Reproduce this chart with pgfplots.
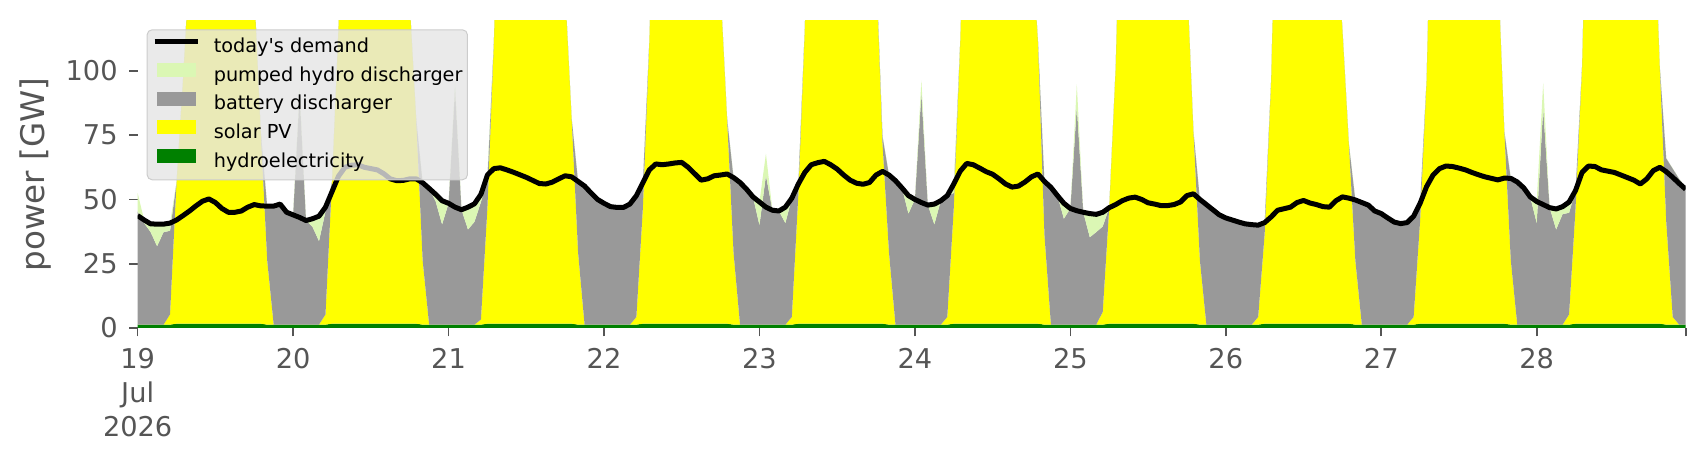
\documentclass[border=0pt]{standalone}
\usepackage{fontspec}
\setmainfont{DejaVu Sans}[Ligatures=TeXOff]
\usepackage{pgfplots}
\usepackage{pgfplotstable}
\pgfplotsset{compat=1.18}
\definecolor{solar}{HTML}{FFFF00}
\definecolor{batt}{HTML}{999999}
\definecolor{phes}{HTML}{DBF7B4}
\definecolor{hydro}{HTML}{008000}
\definecolor{axgray}{HTML}{555555}
\definecolor{legfill}{HTML}{E5E5E5}
\definecolor{legedge}{HTML}{CCCCCC}

\pgfplotstableread{
i H S B P D
0 1.3 0 44 7.2 43.7
1 1.3 0 39.5 1.2 42
2 1.3 0 36 3.2 40.5
3 1.3 0 30.5 8.6 40.4
4 1.3 0 36 3.1 40.4
5 1.3 4 32.5 3 40.8
6 1.7 55 0 0 42
7 1.7 95 0 0 43.7
8 1.7 140 0 0 45.5
9 1.7 200 0 0 47.5
10 1.7 200 0 0 49.3
11 1.7 200 0 0 50.2
12 1.7 200 0 0 48.8
13 1.7 200 0 0 46.5
14 1.7 200 0 0 45
15 1.7 200 0 0 45
16 1.7 200 0 0 45.5
17 1.7 160 0 0 47
18 1.7 130 0 0 48
19 1.7 75 0 0 47.5
20 1.3 25 21.1 0 47.4
21 1.3 0 46.1 0 47.4
22 1.3 0 46.9 0 48.2
23 1.3 0 43.7 0 45
24 1.3 0 42.7 0 44
25 1.3 0 90 2 43
26 1.3 0 40.5 0 41.8
27 1.3 0 38 3.2 42.5
28 1.3 0 32.5 9.7 43.5
29 1.3 4 40 1.7 47
30 1.7 55 0 0 53
31 1.7 115 0 0 59
32 1.7 200 0 0 62.5
33 1.7 200 0 0 63.3
34 1.7 200 0 0 63.5
35 1.7 200 0 0 62.5
36 1.7 200 0 0 62
37 1.7 200 0 0 61.5
38 1.7 200 0 0 60
39 1.7 200 0 0 58
40 1.7 200 0 0 57.3
41 1.7 160 0 0 57.4
42 1.7 125 0 0 58
43 1.7 80 0 0 58
44 1.3 25 30.2 0 56.5
45 1.3 0 53 0 54.3
46 1.3 0 48 2.7 52
47 1.3 0 39 9.2 49.5
48 1.3 0 47.2 0 48.5
49 1.3 0 92 2 47
50 1.3 0 44.7 0 46
51 1.3 0 37 8.7 47
52 1.3 0 40 7 48.3
53 1.3 2 45.7 3 52
54 1.7 45 11.2 2 59.5
55 1.7 110 0 0 62
56 1.7 200 0 0 62.3
57 1.7 200 0 0 61.5
58 1.7 200 0 0 60.6
59 1.7 200 0 0 59.6
60 1.7 200 0 0 58.6
61 1.7 200 0 0 57.4
62 1.7 200 0 0 56.2
63 1.7 200 0 0 56
64 1.7 200 0 0 56.7
65 1.7 160 0 0 58
66 1.7 130 0 0 59.2
67 1.7 80 0 0 58.8
68 1.3 28 27.7 0 57
69 1.3 0 53.9 0 55.2
70 1.3 0 51.2 0 52.5
71 1.3 0 48.7 0 50
72 1.3 0 47.2 0 48.5
73 1.3 0 45.9 0 47.2
74 1.3 0 45.6 0 46.9
75 1.3 0 45.6 0 46.9
76 1.3 0 46.9 0 48.2
77 1.3 3 47.2 0 51.5
78 1.7 45 9.8 0 56.5
79 1.7 110 0 0 61.5
80 1.7 200 0 0 63.8
81 1.7 200 0 0 63.5
82 1.7 200 0 0 63.8
83 1.7 200 0 0 64.2
84 1.7 200 0 0 64.4
85 1.7 200 0 0 62.5
86 1.7 200 0 0 60
87 1.7 200 0 0 57.5
88 1.7 200 0 0 58
89 1.7 160 0 0 59.2
90 1.7 130 0 0 59.5
91 1.7 80 0 0 59.9
92 1.3 28 29.2 0 58.5
93 1.3 0 55.3 0 56.6
94 1.3 0 52.7 0 54
95 1.3 0 49.7 0 51
96 1.3 0 38.7 9 49
97 1.3 0 58 8.5 47
98 1.3 0 44.5 0 45.8
99 1.3 0 44.2 0 45.5
100 1.3 0 39.5 6.2 47
101 1.3 3 46.2 0 50.5
102 1.7 50 4.3 0 56
103 1.7 115 0 0 60.5
104 1.7 200 0 0 63.5
105 1.7 200 0 0 64.3
106 1.7 200 0 0 64.8
107 1.7 200 0 0 63.5
108 1.7 200 0 0 61.8
109 1.7 200 0 0 59.5
110 1.7 200 0 0 57.5
111 1.7 200 0 0 56.3
112 1.7 200 0 0 55.9
113 1.7 160 0 0 56.6
114 1.7 140 0 0 59.5
115 1.7 70 3 0 60.9
116 1.3 28 30.2 0 59.5
117 1.3 0 56 0 57.3
118 1.3 0 53.2 0 54.5
119 1.3 0 43.2 7 51.5
120 1.3 0 48.7 0 50
121 1.3 0 90 5 48.8
122 1.3 0 46.5 0 47.8
123 1.3 0 39 7.9 48.2
124 1.3 0 48.2 0 49.5
125 1.3 3 47.2 0 51.5
126 1.7 45 5.8 3.5 56
127 1.7 110 0 0 61
128 1.7 200 0 0 64
129 1.7 200 0 0 63.5
130 1.7 200 0 0 62.2
131 1.7 200 0 0 60.8
132 1.7 200 0 0 59.8
133 1.7 200 0 0 58
134 1.7 200 0 0 56
135 1.7 200 0 0 54.8
136 1.7 200 0 0 55.2
137 1.7 170 0 0 56.8
138 1.7 150 0 0 58.8
139 1.7 110 0 0 59.9
140 1.3 35 20.7 0 57
141 1.3 0 53.4 0 54.7
142 1.3 0 50.2 0 51.5
143 1.3 0 41.2 6 48.5
144 1.3 0 45.2 0 46.5
145 1.3 0 85 8.5 45.6
146 1.3 0 43.7 0 45
147 1.3 0 34 9.2 44.5
148 1.3 0 36 6.9 44.2
149 1.3 5 33.2 5.5 45
150 1.7 45 0.1 0 46.8
151 1.7 100 0 0 48
152 1.7 200 0 0 49.5
153 1.7 200 0 0 50.5
154 1.7 200 0 0 50.9
155 1.7 200 0 0 50
156 1.7 200 0 0 48.7
157 1.7 200 0 0 48.2
158 1.7 200 0 0 47.6
159 1.7 200 0 0 47.6
160 1.7 200 0 0 48
161 1.7 160 0 0 49
162 1.7 135 0 0 51.5
163 1.7 75 0 0 52.2
164 1.3 25 23.7 0 50
165 1.3 0 46.7 0 48
166 1.3 0 44.7 0 46
167 1.3 0 42.7 0 44
168 1.3 0 41.5 0 42.8
169 1.3 0 40.7 0 42
170 1.3 0 39.9 0 41.2
171 1.3 0 39.2 0 40.5
172 1.3 0 38.9 0 40.2
173 1.3 3 35.7 0 40
174 1.7 35 4.3 0 41
175 1.7 95 0 0 43.2
176 1.7 200 0 0 45.8
177 1.7 200 0 0 46.4
178 1.7 200 0 0 47
179 1.7 200 0 0 48.8
180 1.7 200 0 0 49.6
181 1.7 200 0 0 48.6
182 1.7 200 0 0 48
183 1.7 200 0 0 47.2
184 1.7 200 0 0 47
185 1.7 150 0 0 49.5
186 1.7 115 0 0 51
187 1.7 70 0 0 50.5
188 1.3 25 23.5 0 49.8
189 1.3 0 47.5 0 48.8
190 1.3 0 46.5 0 47.8
191 1.3 0 44.2 0 45.5
192 1.3 0 43.2 0 44.5
193 1.3 0 41.5 0 42.8
194 1.3 0 39.9 0 41.2
195 1.3 0 39.3 0 40.6
196 1.3 0 39.7 0 41
197 1.3 3 39.2 0 43.5
198 1.7 40 6.8 0 48.5
199 1.7 95 0 0 55
200 1.7 200 0 0 59.5
201 1.7 200 0 0 62
202 1.7 200 0 0 63
203 1.7 200 0 0 62.8
204 1.7 200 0 0 62.2
205 1.7 200 0 0 61.5
206 1.7 200 0 0 60.5
207 1.7 200 0 0 59.6
208 1.7 200 0 0 58.8
209 1.7 160 0 0 58.2
210 1.7 140 0 0 57.6
211 1.7 75 0 0 58.3
212 1.3 25 31.9 0 58.2
213 1.3 0 55.5 0 56.8
214 1.3 0 53.2 0 54.5
215 1.3 0 49.7 0 51
216 1.3 0 39.5 8.4 49.2
217 1.3 0 84 10 48
218 1.3 0 45.5 0 46.8
219 1.3 0 37 8 46.3
220 1.3 0 43 2.9 47.2
221 1.3 4 39.5 4.2 49
222 1.7 45 6.8 0 53.5
223 1.7 100 0 0 60.5
224 1.7 200 0 0 63
225 1.7 200 0 0 62.8
226 1.7 200 0 0 61.5
227 1.7 200 0 0 61
228 1.7 200 0 0 60.5
229 1.7 200 0 0 59.5
230 1.7 200 0 0 58.5
231 1.7 200 0 0 57.5
232 1.7 200 0 0 56
233 1.7 200 0 0 58
234 1.7 170 0 0 61.2
235 1.7 100 0 0 62.5
236 1.3 40 24.7 0 60.8
237 1.3 3 57.7 0 58.6
238 1.3 0 56.7 0 56.2
239 1.3 0 53.4 0 54
}\data

\pgfplotsset{
  hydroimg/.style={legend image code/.code={\fill[hydro, fill opacity=1, sharp corners] (0.7bp,-0.3bp) rectangle (12.3bp,3.9bp);}},
  solarimg/.style={legend image code/.code={\fill[solar, fill opacity=1, sharp corners] (0.7bp,-0.3bp) rectangle (12.3bp,3.9bp);}},
  battimg/.style={legend image code/.code={\fill[batt, fill opacity=1, sharp corners] (0.7bp,-0.3bp) rectangle (12.3bp,3.9bp);}},
  phesimg/.style={legend image code/.code={\fill[phes, fill opacity=1, sharp corners] (0.7bp,-0.3bp) rectangle (12.3bp,3.9bp);}},
  demimg/.style={legend image code/.code={\draw[black, line width=1.5bp, draw opacity=1, sharp corners] (0bp,1.8bp) -- (13bp,1.8bp);}},
}

\begin{document}
\begin{tikzpicture}
\useasboundingbox (-41.3bp,-39.6bp) rectangle (470.5bp,98.4bp);
\begin{axis}[
  at={(0,0)}, anchor=south west,
  scale only axis, width=464.4bp, height=92.1bp,
  xmin=0, xmax=239, ymin=0, ymax=119.4,
  stack plots=y,
  reverse stacked plots=false,
  axis x line*=bottom, axis y line*=left,
  axis line style={draw=none},
  tick align=outside,
  major tick length=2.5bp,
  tick style={axgray, line width=0.5bp},
  xtick={0,24,48,72,96,120,144,168,192,216,239},
  xticklabels={{19\\Jul\\2026},20,21,22,23,24,25,26,27,28,{}},
  xticklabel style={align=center, font=\fontsize{8.2}{10.2}\selectfont, text=axgray},
  ytick={0,25,50,75,100},
  yticklabel style={font=\fontsize{8.2}{10}\selectfont, text=axgray},
  /pgf/number format/assume math mode=true,
  ylabel={power [GW]},
  every axis y label/.style={at={(axis description cs:-0.0663,0.5)}, rotate=90, anchor=center, font=\fontsize{9.8}{12}\selectfont, text=axgray},
  reverse legend,
  legend cell align=left,
  legend style={at={(axis description cs:0.0058,0.973)}, anchor=north west,
    fill=legfill, fill opacity=0.8, text opacity=1, draw=legedge, line width=0.3bp,
    rounded corners=1.5bp, inner xsep=1.5bp, inner ysep=1bp, row sep=0pt,
    font=\fontsize{5.8}{7}\selectfont,
    nodes={inner xsep=0pt, inner ysep=1.5bp, text height=4.3bp, text depth=1.3bp},
    /tikz/every odd column/.append style={column sep=4bp}},
]
\addplot[draw=none, fill=hydro, hydroimg] table[x=i, y=H] {\data} \closedcycle;
\addlegendentry{hydroelectricity}
\addplot[draw=none, fill=solar, solarimg] table[x=i, y=S] {\data} \closedcycle;
\addlegendentry{solar PV}
\addplot[draw=none, fill=batt, battimg] table[x=i, y=B] {\data} \closedcycle;
\addlegendentry{battery discharger}
\addplot[draw=none, fill=phes, phesimg] table[x=i, y=P] {\data} \closedcycle;
\addlegendentry{pumped hydro discharger}
\addplot[black, line width=1.5bp, line join=round, stack plots=false, demimg] table[x=i, y=D] {\data};
\addlegendentry{today's demand}
\end{axis}
\end{tikzpicture}
\end{document}
